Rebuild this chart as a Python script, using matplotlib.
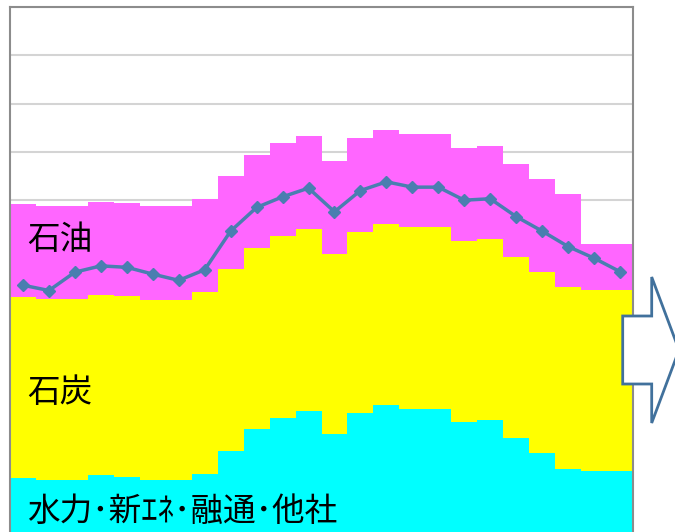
import numpy as np
import matplotlib.pyplot as plt
from matplotlib.patches import Polygon

plt.rcParams['font.family'] = ['Noto Sans CJK JP', 'DejaVu Sans']

# hourly supply stack (arbitrary units, one gridline = 100)
hours = list(range(24))
hydro = [124, 121, 120, 130, 126, 120, 120, 134, 181, 226, 248, 264,
         215, 259, 275, 268, 268, 241, 244, 207, 176, 143, 139, 139]
coal = [375, 375, 376, 374, 375, 373, 373, 375, 376, 375, 377, 376,
        373, 376, 375, 376, 376, 374, 375, 375, 375, 377, 376, 376]
oil = [193, 193, 192, 193, 193, 195, 195, 194, 193, 193, 193, 193,
       193, 193, 195, 193, 193, 193, 194, 193, 193, 192, 94, 94]
demand = [524, 513, 551, 564, 561, 547, 534, 556, 636, 685, 707, 725,
          676, 720, 738, 727, 727, 700, 703, 666, 636, 604, 580, 552]

labels = ['水力･新ｴﾈ･融通･他社', '石炭', '石油']
colors = ['#00FFFF', '#FFFF00', '#FF66FF']

W, H = 675, 532
fig = plt.figure(figsize=(W / 100, H / 100), dpi=100)
ax = fig.add_axes([10 / W, 0, 623 / W, 1 - 7 / H])

edges = np.arange(25) - 0.5
base = np.zeros(24)
for vals, col in zip([hydro, coal, oil], colors):
    top = base + np.array(vals)
    ax.stairs(top, edges, baseline=base, fill=True, color=col, lw=0, zorder=2)
    base = top

ax.plot(hours, demand, color='#4A7EB0', lw=2.5, marker='D', ms=6, zorder=3)

ax.set_xlim(-0.5, 23.5)
ax.set_ylim(13, 1100)
ax.set_yticks(np.arange(100, 1101, 100))
ax.set_xticks([])
ax.tick_params(left=False, labelleft=False)
ax.grid(axis='y', color='#D4D4D4', lw=1.5)
ax.set_axisbelow(True)
for s in ax.spines.values():
    s.set_color('#8C8C8C')
    s.set_linewidth(1.5)
ax.spines['bottom'].set_visible(False)

ax.text(0.17, 55, labels[0], fontsize=23.5, va='center', zorder=4)
ax.text(0.17, 301, labels[1], fontsize=23.5, va='center', zorder=4)
ax.text(0.17, 617, labels[2], fontsize=23.5, va='center', zorder=4)

# outline arrow on the right
pts = [(622.7, 316), (651.7, 316), (651.7, 277), (679, 350),
       (651.7, 423), (651.7, 384), (622.7, 384)]
arrow = Polygon([(x / W, 1 - y / H) for x, y in pts], closed=True,
                transform=fig.transFigure, facecolor='white',
                edgecolor='#41719C', lw=2, zorder=10)
fig.add_artist(arrow)

fig.savefig('out.png', dpi=100)
